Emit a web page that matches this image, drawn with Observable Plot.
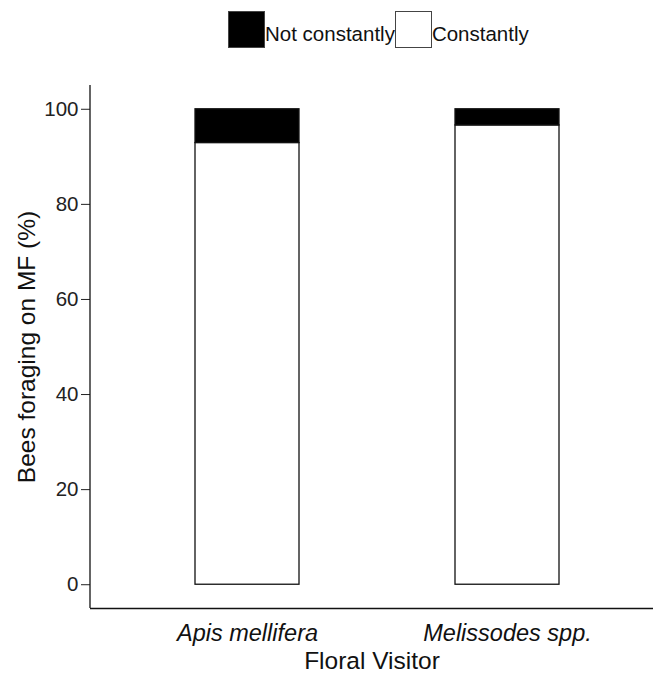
<!DOCTYPE html>
<html><head><meta charset="utf-8">
<script src="https://cdn.jsdelivr.net/npm/d3@7"></script>
<script src="https://cdn.jsdelivr.net/npm/@observablehq/plot@0.6"></script>
<style>
body{margin:0;background:#fff;font-family:"Liberation Sans",Arial,sans-serif;}
#legend{position:relative;height:60px;width:653px;}
#legend .row{position:absolute;left:228px;top:11px;display:flex;align-items:center;height:37px;}
#legend .sw{width:37px;height:37px;box-sizing:border-box;border:1.5px solid #444;}
#legend .lt{font-size:20.5px;color:#111;line-height:37px;padding-top:7px;}
</style>
</head><body>
<div id="legend"></div>
<div id="chart"></div>
<script>
const visitors = ["Apis mellifera", "Melissodes spp."];
const statuses = ["Constantly", "Not constantly"];
const legendOrder = ["Not constantly", "Constantly"];
const legendColors = ["black", "white"];
const constantly = [92.9, 96.6];
const notConstantly = [7.1, 3.4];
const yTicks = [0, 20, 40, 60, 80, 100];

const rows = visitors.flatMap((v, i) => [
  {visitor: v, status: statuses[0], value: constantly[i]},
  {visitor: v, status: statuses[1], value: notConstantly[i]}
]);

// legend
const row = d3.select("#legend").append("div").attr("class", "row");
legendOrder.forEach((s, i) => {
  row.append("div").attr("class", "sw").style("background", legendColors[i]);
  row.append("div").attr("class", "lt").text(s);
});

const mLeft = 90;
const chart = Plot.plot({
  width: 653, height: 615,
  marginLeft: mLeft, marginRight: 0, marginTop: 25, marginBottom: 67,
  style: {fontFamily: "Liberation Sans, Arial, sans-serif", background: "white"},
  x: {type: "band", domain: visitors, range: [mLeft, 663], paddingInner: 0.6, paddingOuter: 0.4, label: null},
  y: {domain: [-5, 105], label: null},
  color: {domain: legendOrder, range: legendColors},
  marks: [
    Plot.barY(rows, {x: "visitor", y: "value", fill: "status", stroke: "#111", strokeWidth: 1.3}),
    Plot.axisY({ticks: yTicks, tickSize: 9, tickPadding: 3, fontSize: 20.5, color: "#222", label: null}),
    Plot.axisX({tickSize: 0, tickPadding: 16, fontSize: 23.5, fontStyle: "italic", color: "#111", label: null}),
    Plot.ruleY([-5], {stroke: "#111", strokeWidth: 1.3}),
    Plot.text(["Floral Visitor"], {text: d => d, frameAnchor: "bottom", dy: 53, fontSize: 24.5, lineAnchor: "middle", fill: "#111"}),
    Plot.text(["Bees foraging on MF (%)"], {text: d => d, frameAnchor: "left", textAnchor: "middle", dx: -63, rotate: -90, fontSize: 24.5, lineAnchor: "middle", fill: "#111"})
  ]
});
const ys = chart.scale("y");
d3.select(chart).append("line")
  .attr("x1", mLeft).attr("x2", mLeft)
  .attr("y1", ys.range[0]).attr("y2", ys.range[1])
  .attr("stroke", "#111").attr("stroke-width", 1.3);
document.getElementById("chart").append(chart);
</script>
</body></html>
